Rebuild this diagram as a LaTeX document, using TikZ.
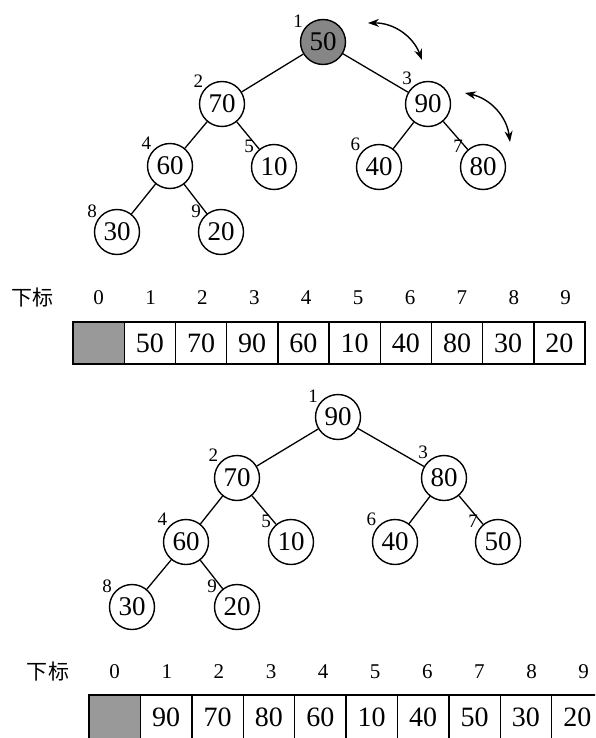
\documentclass[tikz,border=0pt]{standalone}
\usepackage{fontspec}
\setmainfont{Liberation Serif}
\newfontfamily\cjk{Noto Sans CJK SC}
\usetikzlibrary{arrows.meta}

\tikzset{
  key/.style={circle,draw,line width=1.4pt,minimum size=45pt,inner sep=0pt,
    font=\fontsize{27}{27}\selectfont},
  idx/.style={font=\fontsize{19}{19}\selectfont,inner sep=1pt},
  edge/.style={line width=1.3pt},
  cell/.style={draw,line width=1.3pt,minimum width=51.3pt,minimum height=42pt,
    inner sep=0pt,font=\fontsize{28}{28}\selectfont},
  posnum/.style={font=\fontsize{21}{21}\selectfont,inner sep=0pt},
  tag/.style={font=\fontsize{21}{21}\selectfont\cjk,inner sep=0pt},
  swaparrow/.style={{Stealth[length=11pt,width=8pt]}-{Stealth[length=11pt,width=8pt]},line width=1.4pt},
}

\begin{document}
\begin{tikzpicture}[x=1pt,y=-1pt]
  \useasboundingbox (0,0) rectangle (595,738);
  \clip (0,0) rectangle (595,738);

  % first heap
  \node[key,fill=gray!95,label={[idx]145:1}] (a1) at (323,42) {50};
  \node[key,label={[idx]140:2}] (a2) at (222,104) {70};
  \node[key,label={[idx]130:3}] (a3) at (428,104) {90};
  \node[key,label={[idx]140:4}] (a4) at (170,166) {60};
  \node[key,label={[idx]145:5}] (a5) at (274,167) {10};
  \node[key,label={[idx]140:6}] (a6) at (379,167) {40};
  \node[key,label={[idx]145:7}] (a7) at (483,167) {80};
  \node[key,label={[idx]145:8}] (a8) at (117,232) {30};
  \node[key,label={[idx]145:9}] (a9) at (221,232) {20};
  \foreach \p/\c in {a1/a2,a1/a3,a2/a4,a2/a5,a3/a6,a3/a7,a4/a8,a4/a9}
    \draw[edge] (\p) -- (\c);

  \coordinate (s1) at (368,23);
  \coordinate (t1) at (422,60);
  \coordinate (s2) at (465,93);
  \coordinate (t2) at (510,142);
  \draw[swaparrow] (s1) to[bend left=35] (t1);
  \draw[swaparrow] (s2) to[bend left=35] (t2);

  % first array
  \node[tag] (tag1) at (33,298) {下标};
  \node[cell,fill=gray!80] (c0) at (98.6,343) {};
  \node[posnum] (p0) at (98.6,298) {0};
  \foreach \v [count=\i] in {50,70,90,60,10,40,80,30,20} {
    \node[cell] (c\i) at ({73+51.2*(\i+0.5)},343) {\v};
    \node[posnum] (p\i) at ({73+51.2*(\i+0.5)+\i*0.7},298) {\i};
  }

  % second heap
  \node[key,label={[idx]145:1}] (b1) at (338,417) {90};
  \node[key,label={[idx]140:2}] (b2) at (237,478) {70};
  \node[key,label={[idx]130:3}] (b3) at (444,478) {80};
  \node[key,label={[idx]140:4}] (b4) at (186,542) {60};
  \node[key,label={[idx]145:5}] (b5) at (291,542) {10};
  \node[key,label={[idx]140:6}] (b6) at (395,542) {40};
  \node[key,label={[idx]145:7}] (b7) at (498,542) {50};
  \node[key,label={[idx]145:8}] (b8) at (132,607) {30};
  \node[key,label={[idx]145:9}] (b9) at (237,607) {20};
  \foreach \p/\c in {b1/b2,b1/b3,b2/b4,b2/b5,b3/b6,b3/b7,b4/b8,b4/b9}
    \draw[edge] (\p) -- (\c);

  % second array
  \node[tag] (tag2) at (48,672) {下标};
  \node[cell,fill=gray!80,minimum height=44pt] (d0) at (114.7,717) {};
  \node[posnum] (q0) at (114.7,672) {0};
  \foreach \v [count=\i] in {90,70,80,60,10,40,50,30,20} {
    \node[cell,minimum height=44pt] (d\i) at ({89+51.4*(\i+0.5)},717) {\v};
    \node[posnum] (q\i) at ({89+51.4*(\i+0.5)+\i*0.7},672) {\i};
  }
\end{tikzpicture}
\end{document}
